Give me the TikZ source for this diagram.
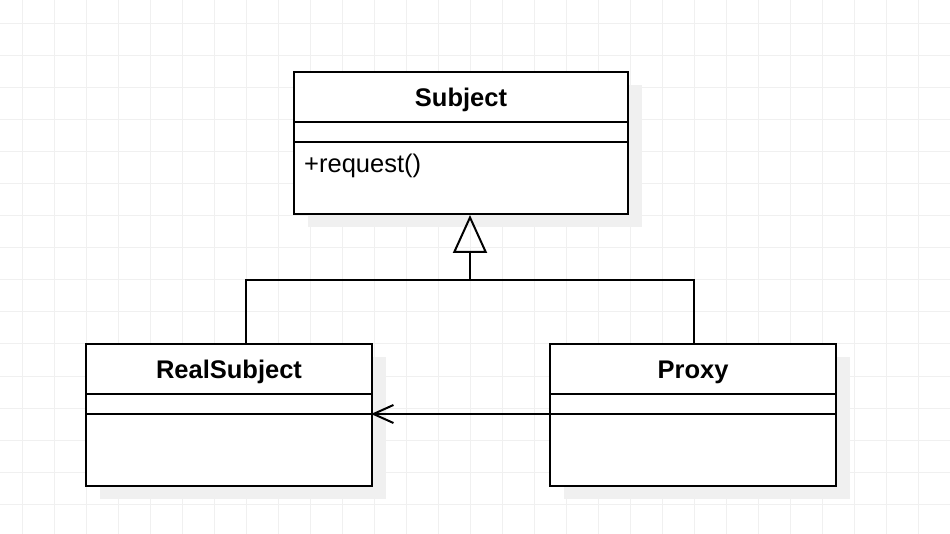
\documentclass[tikz,border=0pt]{standalone}
\usepackage{fontspec}
\setmainfont{Liberation Sans}
\usetikzlibrary{arrows.meta}
\definecolor{gridc}{HTML}{F0F0F0}
\definecolor{shadowc}{HTML}{F0F0F0}
\tikzset{
  classbox/.style={draw=black, line width=2pt, fill=white, rectangle, inner sep=0pt},
  shadowbox/.style={fill=shadowc, draw=none, rectangle, inner sep=0pt},
  divider/.style={draw=black, line width=2pt},
  titletext/.style={font=\fontsize{25.5pt}{28pt}\selectfont\bfseries, inner sep=0pt},
  membertext/.style={font=\fontsize{25.5pt}{28pt}\selectfont, inner sep=0pt, anchor=west},
  edge/.style={draw=black, line width=2pt},
}
\begin{document}
\begin{tikzpicture}[x=1pt,y=-1pt]
\useasboundingbox (0,0) rectangle (950,534);
\fill[white] (0,0) rectangle (950,534);
% grid
\foreach \gx in {22,54,...,950} \draw[gridc, line width=1pt] (\gx,0) -- (\gx,534);
\foreach \gy in {24,56,...,534} \draw[gridc, line width=1pt] (0,\gy) -- (950,\gy);

% shadows
\node[shadowbox, minimum width=334pt, minimum height=142pt] at (475,156) {};
\node[shadowbox, minimum width=286pt, minimum height=142pt] at (243,428) {};
\node[shadowbox, minimum width=286pt, minimum height=142pt] at (707,428) {};

% classes
\node[classbox, minimum width=334pt, minimum height=142pt] (subject) at (461,143) {};
\node[titletext] (subjectname) at (461,100) {Subject};
\draw[divider] (subject.west |- 0,122) -- (subject.east |- 0,122);
\draw[divider] (subject.west |- 0,142) -- (subject.east |- 0,142);
\node[membertext] (subjectop) at (304,166) {+request()};

\node[classbox, minimum width=286pt, minimum height=142pt] (real) at (229,415) {};
\node[titletext] (realname) at (229,372) {RealSubject};
\draw[divider] (real.west |- 0,394) -- (real.east |- 0,394);
\draw[divider] (real.west |- 0,414) -- (real.east |- 0,414);

\node[classbox, minimum width=286pt, minimum height=142pt] (proxy) at (693,415) {};
\node[titletext] (proxyname) at (693,372) {Proxy};
\draw[divider] (proxy.west |- 0,394) -- (proxy.east |- 0,394);
\draw[divider] (proxy.west |- 0,414) -- (proxy.east |- 0,414);

% inheritance
\coordinate (join) at (470,280);
\draw[edge] (246,0 |- real.north) |- (join) -| (694,0 |- proxy.north);
\draw[edge, -{Triangle[open, length=38pt, width=34pt, line width=2pt]}] (join) -- (join |- subject.south);

% association
\draw[edge, -{Straight Barb[length=20pt, width=18pt, line width=2pt]}] (proxy.west |- 0,414) -- ([xshift=-2pt]real.east |- 0,414);
\end{tikzpicture}
\end{document}
